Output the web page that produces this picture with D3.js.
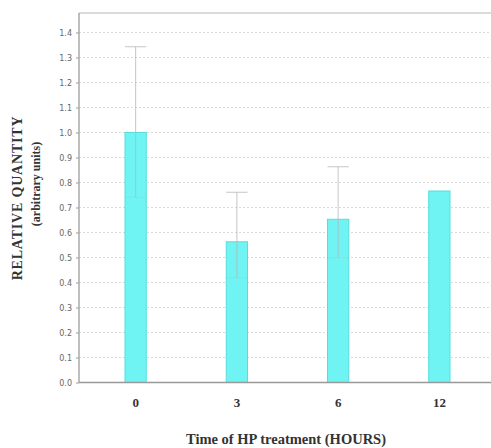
<!DOCTYPE html>
<html>
<head>
<meta charset="utf-8">
<script src="https://cdn.jsdelivr.net/npm/d3@7"></script>
<style>
  body { margin: 0; background: #fff; }
  .tick text { font-family: "DejaVu Sans", sans-serif; }
</style>
</head>
<body>
<div id="chart"></div>
<script>
// chart data
const hours = ["0", "3", "6", "12"];
const quantity = [1.0, 0.563, 0.653, 0.766];
const errUpper = [1.343, 0.761, 0.863, null];
const errLower = [0.741, 0.419, 0.499, null];
const yTicks = [0, 0.1, 0.2, 0.3, 0.4, 0.5, 0.6, 0.7, 0.8, 0.9, 1.0, 1.1, 1.2, 1.3, 1.4];

const W = 491, H = 448;
const PLOT = {LEFT: 79, TOP: 13, BOTTOM: 382.5, RIGHT: 491};

const svg = d3.select("#chart").append("svg")
  .attr("width", W)
  .attr("height", H);

const x = d3.scaleBand()
  .domain(hours)
  .range([85, 490])
  .paddingInner(0.79)
  .paddingOuter(0.395);

const y = d3.scaleLinear()
  .domain([0, 1.4])
  .range([PLOT.BOTTOM, PLOT.BOTTOM - 350]);

// dotted grid
svg.append("g")
  .selectAll("line")
  .data(yTicks.filter(d => d > 0))
  .join("line")
  .attr("x1", PLOT.LEFT)
  .attr("x2", PLOT.RIGHT)
  .attr("y1", d => y(d))
  .attr("y2", d => y(d))
  .attr("stroke", "#dadada")
  .attr("stroke-width", 1)
  .attr("stroke-dasharray", "2,2");

// top border
svg.append("line")
  .attr("x1", PLOT.LEFT).attr("x2", PLOT.RIGHT)
  .attr("y1", PLOT.TOP).attr("y2", PLOT.TOP)
  .attr("stroke", "#cfcfcf").attr("stroke-width", 1.5);

// bars
const data = hours.map((h, i) => ({h: h, v: quantity[i], hi: errUpper[i], lo: errLower[i]}));

svg.append("g")
  .selectAll("rect")
  .data(data)
  .join("rect")
  .attr("x", d => x(d.h))
  .attr("width", x.bandwidth())
  .attr("y", d => y(d.v))
  .attr("height", d => y(0) - y(d.v))
  .attr("fill", "#6ff3f3")
  .attr("stroke", "#55dede")
  .attr("stroke-width", 1);

// error bars
const eb = svg.append("g")
  .selectAll("g")
  .data(data.filter(d => d.hi != null))
  .join("g")
  .attr("stroke", "#b8b8b8")
  .attr("stroke-opacity", 0.8)
  .attr("stroke-width", 1);

eb.append("line")
  .attr("x1", d => x(d.h) + x.bandwidth() / 2)
  .attr("x2", d => x(d.h) + x.bandwidth() / 2)
  .attr("y1", d => y(d.hi))
  .attr("y2", d => y(d.lo));

eb.append("line")
  .attr("x1", d => x(d.h))
  .attr("x2", d => x(d.h) + x.bandwidth())
  .attr("y1", d => y(d.hi))
  .attr("y2", d => y(d.hi));

eb.append("line")
  .attr("x1", d => x(d.h))
  .attr("x2", d => x(d.h) + x.bandwidth())
  .attr("y1", d => y(d.lo))
  .attr("y2", d => y(d.lo))
  .attr("stroke-opacity", 0.35);

// y axis
const yAxis = svg.append("g")
  .attr("transform", `translate(${PLOT.LEFT},0)`)
  .call(d3.axisLeft(y).tickValues(yTicks).tickFormat(d3.format(".1f")).tickSize(3).tickPadding(4));
yAxis.select(".domain").remove();
yAxis.selectAll(".tick line").attr("stroke", "#999");
yAxis.selectAll(".tick text").attr("fill", "#666").style("font-size", "8px");

svg.append("line")
  .attr("x1", PLOT.LEFT).attr("x2", PLOT.LEFT)
  .attr("y1", PLOT.TOP).attr("y2", PLOT.BOTTOM)
  .attr("stroke", "#a8a8a8").attr("stroke-width", 1.5);

// x axis
const xAxis = svg.append("g")
  .attr("transform", `translate(0,${PLOT.BOTTOM})`)
  .call(d3.axisBottom(x).tickSize(0).tickPadding(15));
xAxis.select(".domain").remove();
xAxis.selectAll(".tick text")
  .attr("fill", "#333")
  .style("font-family", "'Liberation Serif', serif")
  .style("font-weight", "bold")
  .style("font-size", "13px");

svg.append("line")
  .attr("x1", PLOT.LEFT).attr("x2", PLOT.RIGHT)
  .attr("y1", PLOT.BOTTOM).attr("y2", PLOT.BOTTOM)
  .attr("stroke", "#999").attr("stroke-width", 1.5);

// titles
const serif = "'Liberation Serif', 'Times New Roman', serif";

svg.append("text")
  .attr("x", 286).attr("y", 444)
  .attr("text-anchor", "middle")
  .attr("fill", "#333")
  .style("font-family", serif)
  .style("font-weight", "bold")
  .style("font-size", "14.5px")
  .text("Time of HP treatment (HOURS)");

svg.append("text")
  .attr("transform", "translate(22,198) rotate(-90)")
  .attr("text-anchor", "middle")
  .attr("fill", "#333")
  .style("font-family", serif)
  .style("font-weight", "bold")
  .style("font-size", "14px")
  .style("letter-spacing", "0.8px")
  .text("RELATIVE QUANTITY");

svg.append("text")
  .attr("transform", "translate(40,184) rotate(-90)")
  .attr("text-anchor", "middle")
  .attr("fill", "#333")
  .style("font-family", serif)
  .style("font-weight", "bold")
  .style("font-size", "12px")
  .text("(arbitrary units)");
</script>
</body>
</html>
